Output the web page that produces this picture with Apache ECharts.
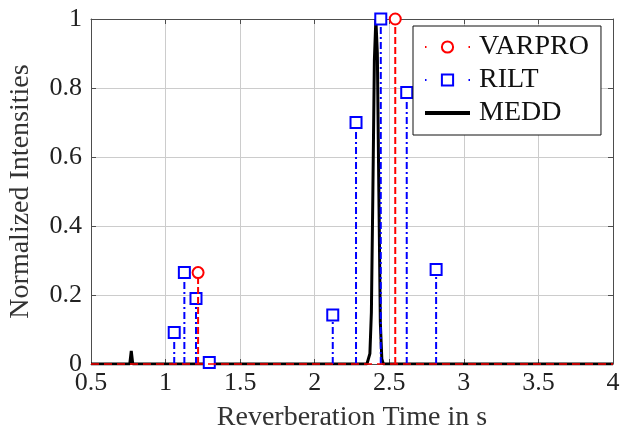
<!DOCTYPE html>
<html>
<head>
<meta charset="utf-8">
<script src="https://cdn.jsdelivr.net/npm/echarts@6/dist/echarts.min.js"></script>
<style>
html,body{margin:0;padding:0;background:#fff;}
#chart{width:622px;height:430px;}
</style>
</head>
<body>
<div id="chart"></div>
<script>
// ---- data ----
const seriesNames = ['VARPRO', 'RILT', 'MEDD'];
const varproX = [1.218, 2.540];
const varproY = [0.265, 1.000];
const riltX = [1.058, 1.126, 1.204, 1.293, 2.121, 2.277, 2.443, 2.617, 2.814];
const riltY = [0.091, 0.265, 0.190, 0.004, 0.142, 0.700, 1.000, 0.787, 0.274];
const meddX = [0.5, 0.76, 0.77, 0.78, 2.35, 2.36, 2.37, 2.38, 2.39, 2.40, 2.41, 2.42, 2.43, 2.44, 2.45, 2.46, 4.0];
const meddY = [0.0, 0.0, 0.038, 0.0, 0.0, 0.005, 0.03, 0.15, 0.50, 0.88, 1.00, 0.90, 0.50, 0.12, 0.015, 0.0, 0.0];
const xTickLabels = ['0.5', '1', '1.5', '2', '2.5', '3', '3.5', '4'];
const yTickLabels = ['0', '0.2', '0.4', '0.6', '0.8', '1'];

const FONT = 'Liberation Serif';
const AXIS_COLOR = '#4d4d4d';
const GRID_COLOR = '#cccccc';

function stems(xs, ys) {
  const out = [];
  for (let i = 0; i < xs.length; i++) {
    out.push({ value: [xs[i], 0], symbol: 'none' });
    out.push({ value: [xs[i], ys[i]] });
    out.push({ value: [xs[i], '-'] });
  }
  return out;
}

const chart = echarts.init(document.getElementById('chart'), null, { renderer: 'canvas' });

const tickFmtX = v => { const s = String(+v.toFixed(2)); return xTickLabels.includes(s) ? s : ''; };
const tickFmtY = v => { const s = String(+v.toFixed(2)); return yTickLabels.includes(s) ? s : ''; };

const option = {
  animation: false,
  backgroundColor: '#ffffff',
  grid: { left: 91, right: 9, top: 19, bottom: 66, containLabel: false, outerBoundsMode: 'none' },
  xAxis: [
    {
      type: 'value', min: 0.5, max: 4, interval: 0.5, position: 'bottom',
      axisLine: { show: true, onZero: false, lineStyle: { color: AXIS_COLOR, width: 1 } },
      axisTick: { show: true, inside: true, length: 5, lineStyle: { color: AXIS_COLOR } },
      axisLabel: { fontFamily: FONT, fontSize: 26, color: '#222', margin: 6, formatter: tickFmtX },
      splitLine: { show: true, lineStyle: { color: GRID_COLOR, width: 1 } },
      name: 'Reverberation Time in s', nameLocation: 'middle', nameGap: 40,
      nameTextStyle: { fontFamily: FONT, fontSize: 28, color: '#333' }
    },
    {
      type: 'value', min: 0.5, max: 4, interval: 0.5, position: 'top',
      axisLine: { show: true, onZero: false, lineStyle: { color: AXIS_COLOR, width: 1 } },
      axisTick: { show: true, inside: true, length: 5, lineStyle: { color: AXIS_COLOR } },
      axisLabel: { show: false }, splitLine: { show: false }
    }
  ],
  yAxis: [
    {
      type: 'value', min: 0, max: 1, interval: 0.2, position: 'left',
      axisLine: { show: true, onZero: false, lineStyle: { color: AXIS_COLOR, width: 1 } },
      axisTick: { show: true, inside: true, length: 5, lineStyle: { color: AXIS_COLOR } },
      axisLabel: { fontFamily: FONT, fontSize: 26, color: '#222', margin: 9, formatter: tickFmtY },
      splitLine: { show: true, lineStyle: { color: GRID_COLOR, width: 1 } },
      name: 'Normalized Intensities', nameLocation: 'middle', nameGap: 56,
      nameTextStyle: { fontFamily: FONT, fontSize: 28, color: '#333' }
    },
    {
      type: 'value', min: 0, max: 1, interval: 0.2, position: 'right',
      axisLine: { show: true, onZero: false, lineStyle: { color: AXIS_COLOR, width: 1 } },
      axisTick: { show: true, inside: true, length: 5, lineStyle: { color: AXIS_COLOR } },
      axisLabel: { show: false }, splitLine: { show: false }
    }
  ],
  legend: {
    data: [
      { name: seriesNames[0], lineStyle: { type: [1.5, 42] } },
      { name: seriesNames[1], lineStyle: { type: [1.5, 42] } },
      { name: seriesNames[2], lineStyle: { width: 4 }, itemStyle: { color: 'rgba(0,0,0,0)', borderColor: 'rgba(0,0,0,0)', borderWidth: 0 } }
    ],
    orient: 'vertical', left: 413, top: 26,
    backgroundColor: '#ffffff', borderColor: '#111', borderWidth: 1, borderRadius: 0,
    padding: [7, 12, 8, 10], itemGap: 5, itemWidth: 45, itemHeight: 14,
    textStyle: { fontFamily: FONT, fontSize: 28, color: '#111', lineHeight: 28, padding: [0, 0, 0, 4] },
    selectedMode: false
  },
  series: [
    {
      name: 'MEDD', type: 'line', silent: true, z: 2,
      data: meddX.map((x, i) => [x, meddY[i]]),
      symbol: 'none', lineStyle: { color: '#000', width: 3 }, itemStyle: { color: '#000' },
      clip: true
    },
    {
      name: 'RILT', type: 'line', silent: true, z: 3,
      data: stems(riltX, riltY), connectNulls: false,
      symbol: 'rect', symbolSize: 11, showSymbol: true, showAllSymbol: true,
      lineStyle: { color: '#0000ff', width: 2, type: [7, 3, 2, 3] },
      itemStyle: { color: '#ffffff', borderColor: '#0000ff', borderWidth: 2 },
      clip: false
    },
    {
      name: 'VARPRO', type: 'line', silent: true, z: 4,
      data: stems(varproX, varproY), connectNulls: false,
      symbol: 'circle', symbolSize: 11, showSymbol: true, showAllSymbol: true,
      lineStyle: { color: '#ff0000', width: 2, type: [7, 3] },
      itemStyle: { color: '#ffffff', borderColor: '#ff0000', borderWidth: 2 },
      clip: false,
      markLine: {
        silent: true, symbol: 'none', label: { show: false },
        lineStyle: { color: '#ff0000', width: 1.5, type: [8, 5] },
        data: [{ yAxis: 0 }]
      }
    }
  ]
};
chart.setOption(option);
</script>
</body>
</html>
